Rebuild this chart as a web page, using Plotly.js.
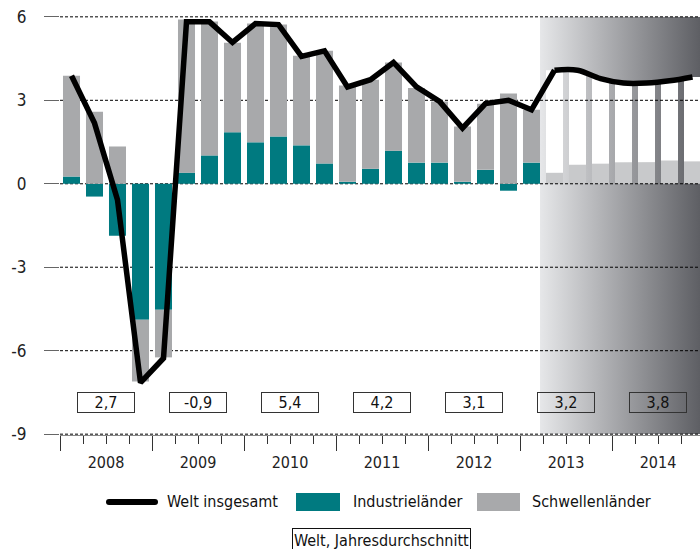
<!DOCTYPE html>
<html><head><meta charset="utf-8">
<script src="https://cdn.plot.ly/plotly-3.0.1.min.js"></script>
<style>html,body{margin:0;padding:0;background:#fff;overflow:hidden}</style>
</head><body><div id="chart" style="width:700px;height:549px"></div>
<script>
// ---- data (quarterly, 2008 Q1 .. 2014 Q4) ----
const years = ['2008','2009','2010','2011','2012','2013','2014'];
const yearAvg = ['2,7','-0,9','5,4','4,2','3,1','3,2','3,8'];
const welt = [3.88,2.18,-0.58,-7.15, -6.27,5.82,5.82,5.08, 5.76,5.72,4.58,4.78, 3.48,3.74,4.36,3.48, 2.96,2.00,2.88,3.00, 2.66,4.08,4.08,3.78, 3.62,3.62,3.70,3.84];
const industrie = [0.26,-0.46,-1.87,-4.89, -4.53,0.40,1.02,1.85, 1.49,1.70,1.38,0.73, 0.07,0.54,1.19,0.76, 0.76,0.07,0.50,-0.25, 0.76,0.40,0.68,0.72, 0.76,0.76,0.83,0.79];
const schwellen = [3.62,2.59,1.34,-2.22, -1.71,5.50,4.81,3.22, 4.27,4.02,3.22,4.05, 3.46,3.20,3.17,2.68, 2.20,1.99,2.38,3.24, 1.90,3.68,3.40,3.06, 2.86,2.86,2.87,3.05];
const forecastStart = 21; // 2013 Q2
const yTicks = [-9,-6,-3,0,3,6];
const legendNames = ['Welt insgesamt','Industrieländer','Schwellenländer'];
const footLabel = 'Welt, Jahresdurchschnitt';

// ---- styles ----
const FONT = "'Liberation Sans Narrow','DejaVu Sans Condensed','Roboto Condensed','Open Sans',sans-serif";
const TEAL = '#007a80', GRAY = '#a8a9ab', FC_IND = '#c8c9cb';
const BARW = 0.74;
const xMax = 640/23;
const L = 60, T = 16, B = 114, W = 700, H = 549;
const PH = H - T - B;
const X = px => (px - L) / (W - L);
const Y = py => (T + PH - py) / PH;

const xs = welt.map((_, i) => i + 0.5);
const hist = a => a.slice(0, forecastStart);
const fc = a => a.slice(forecastStart);

const gridX = [], gridY = [];
yTicks.forEach(v => { gridX.push(0, xMax, null); gridY.push(v, v, null); });

const traces = [
  // base subplot: forecast bars + gridlines (drawn over gradient)
  {type:'bar', x: fc(xs), y: fc(industrie), marker:{color:FC_IND, line:{width:0}}, xaxis:'x', yaxis:'y', showlegend:false, hoverinfo:'skip'},
  {type:'bar', x: fc(xs), y: fc(schwellen), marker:{color:'#ffffff', line:{width:0}}, xaxis:'x', yaxis:'y', showlegend:false, hoverinfo:'skip'},
  {type:'scatter', mode:'lines', x: gridX, y: gridY, line:{color:'#000', width:1, dash:'3px,2px'}, xaxis:'x', yaxis:'y', showlegend:false, hoverinfo:'skip'},
  // overlay subplot: historical bars + world line
  {type:'bar', name: legendNames[1], x: hist(xs), y: hist(industrie), marker:{color:TEAL, line:{width:0}}, xaxis:'x2', yaxis:'y2', showlegend:false},
  {type:'bar', name: legendNames[2], x: hist(xs), y: hist(schwellen), marker:{color:GRAY, line:{width:0}}, xaxis:'x2', yaxis:'y2', showlegend:false},
  {type:'scatter', mode:'lines', name: legendNames[0], x: xs.slice(0, forecastStart+1), y: welt.slice(0, forecastStart+1), line:{color:'#000', width:5.5}, xaxis:'x2', yaxis:'y2', showlegend:false},
  {type:'scatter', mode:'lines', name: legendNames[0], x: xs.slice(forecastStart), y: welt.slice(forecastStart), line:{color:'#000', width:5.5, shape:'spline', smoothing:1}, xaxis:'x2', yaxis:'y2', showlegend:false}
];

const gradSvg = "<svg xmlns='http://www.w3.org/2000/svg' width='100' height='100' viewBox='0 0 100 100' preserveAspectRatio='none'><defs><linearGradient id='g' x1='0' y1='0' x2='1' y2='0'><stop offset='0' stop-color='#e6e7e9'/><stop offset='1' stop-color='#5e5f64'/></linearGradient></defs><rect width='100' height='100' fill='url(#g)'/></svg>";
const gradStart = forecastStart - 0.5 + BARW/2;

const annotations = [];
years.forEach((yr, i) => {
  annotations.push({xref:'x', yref:'paper', x: 4*i + 2, y: Y(402.5), text: yearAvg[i], showarrow:false,
    width: 56, height: 19, borderpad: 0, bordercolor:'#333', borderwidth:1, bgcolor:'rgba(0,0,0,0)',
    font:{family:FONT, size:16, color:'#111'}, xanchor:'center', yanchor:'middle'});
});
// legend texts
[[165, legendNames[0]], [351, legendNames[1]], [530, legendNames[2]]].forEach(([px, t]) => {
  annotations.push({xref:'paper', yref:'paper', x: X(px), y: Y(502), text: t, showarrow:false, xanchor:'left', yanchor:'middle',
    font:{family:FONT, size:16, color:'#111'}});
});
annotations.push({xref:'paper', yref:'paper', x: X(381), y: Y(540), text: footLabel, showarrow:false, xanchor:'center', yanchor:'middle',
  width: 177, height: 22, borderpad: 0, bordercolor:'#111', borderwidth:1, font:{family:FONT, size:16, color:'#111'}});

const capDot = px => ({type:'circle', xref:'paper', yref:'paper', xsizemode:'pixel', ysizemode:'pixel', xanchor: X(px), yanchor: Y(502),
  x0:-3, x1:3, y0:-3, y1:3, fillcolor:'#000', line:{width:0}});
const shapes = [
  {type:'line', xref:'paper', yref:'paper', x0: X(109), x1: X(155), y0: Y(502), y1: Y(502), line:{color:'#000', width:6}},
  capDot(109), capDot(155),
  {type:'rect', xref:'paper', yref:'paper', x0: X(296), x1: X(340), y0: Y(511), y1: Y(493), fillcolor: TEAL, line:{width:0}},
  {type:'rect', xref:'paper', yref:'paper', x0: X(477), x1: X(520), y0: Y(511), y1: Y(493), fillcolor: GRAY, line:{width:0}}
];

const layout = {
  width: W, height: H,
  margin: {l: L, r: 0, t: T, b: B, pad: 0},
  paper_bgcolor: '#fff', plot_bgcolor: 'rgba(0,0,0,0)',
  barmode: 'relative', bargap: 1 - BARW,
  showlegend: false,
  font: {family: FONT, size: 16, color: '#111'},
  xaxis: {range:[0, xMax], tickmode:'array', tickvals: years.map((_, i) => 4*i).concat([28]), ticks:'outside', ticklen:15, tickcolor:'#333', tickwidth:1,
    showticklabels:false, showgrid:false, zeroline:false, showline:true, linecolor:'#888', linewidth:1, layer:'below traces',
    minor:{tickmode:'linear', tick0:0, dtick:1, ticks:'outside', ticklen:8, tickcolor:'#333', tickwidth:1, showgrid:false}},
  yaxis: {range:[-9.03, 6.03], tickmode:'array', tickvals: yTicks, ticktext: yTicks.map(String), ticks:'outside', ticklen:15, tickcolor:'#666', tickwidth:1,
    showgrid:false, zeroline:false, showline:false, ticklabelstandoff: 14, tickfont:{family:FONT, size:17, color:'#222'}},
  xaxis2: {range:[0, xMax], overlaying:'x', anchor:'y2', side:'bottom', tickmode:'array', tickvals: years.map((_, i) => 4*i + 2), ticktext: years,
    ticks:'', showgrid:false, zeroline:false, showline:false, ticklabelstandoff: 16, tickfont:{family:FONT, size:16, color:'#222'}},
  yaxis2: {range:[-9.03, 6.03], overlaying:'y', anchor:'x2', visible:false, showgrid:false, zeroline:false},
  images: [{source: 'data:image/svg+xml;charset=utf-8,' + encodeURIComponent(gradSvg), xref:'x', yref:'y', x: gradStart, y: 6, sizex: xMax - gradStart, sizey: 15,
    xanchor:'left', yanchor:'top', sizing:'stretch', layer:'below'}],
  annotations, shapes
};

Plotly.newPlot('chart', traces, layout, {staticPlot: true, displayModeBar: false});
</script></body></html>
